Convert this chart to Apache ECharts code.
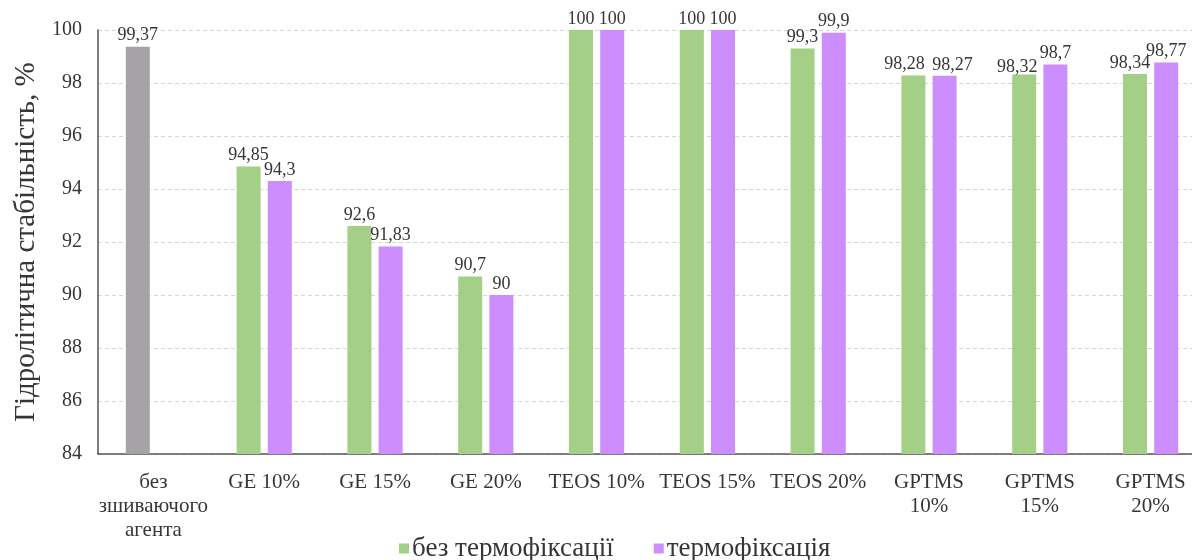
<!DOCTYPE html>
<html>
<head>
<meta charset="utf-8">
<script src="https://cdn.jsdelivr.net/npm/echarts@6/dist/echarts.min.js"></script>
<style>
html,body{margin:0;padding:0;background:#fff;}
#chart{width:1192px;height:560px;}
</style>
</head>
<body>
<div id="chart"></div>
<script>
const categories = ['без\nзшиваючого\nагента', 'GE 10%', 'GE 15%', 'GE 20%', 'TEOS 10%', 'TEOS 15%', 'TEOS 20%', 'GPTMS\n10%', 'GPTMS\n15%', 'GPTMS\n20%'];
const seriesNames = ['без термофіксації', 'термофіксація'];
const noThermo = [99.37, 94.85, 92.6, 90.7, 100, 100, 99.3, 98.28, 98.32, 98.34];
const thermo = [null, 94.3, 91.83, 90, 100, 100, 99.9, 98.27, 98.7, 98.77];
const yTicks = [84, 86, 88, 90, 92, 94, 96, 98, 100];

const FONT = '"Liberation Serif", "DejaVu Serif", serif';
const GREEN = '#a3cf86';
const PURPLE = '#cc8dfd';
const GRAY = '#a6a3a6';
const TXT = '#363636';

const fmt = v => String(v).replace('.', ',');

// label nudges (style only) so crowded labels don't overlap, as in the original
const greenLabelShift = {7: [-9, 0], 8: [-7, 4], 9: [-5, 0]};
const purpleLabelShift = {7: [8, 0]};

const chart = echarts.init(document.getElementById('chart'), null, {renderer: 'canvas'});
const labelCfg = {
  show: true, position: 'top', distance: 2,
  fontFamily: FONT, fontSize: 18, color: TXT,
  formatter: p => fmt(p.value)
};
chart.setOption({
  animation: false,
  backgroundColor: '#ffffff',
  grid: {left: 98, top: 30, width: 1108, height: 424, outerBoundsMode: 'none', containLabel: false},
  legend: {
    left: 394, top: 530,
    itemWidth: 10, itemHeight: 10, itemGap: 40,
    icon: 'rect',
    textStyle: {fontFamily: FONT, fontSize: 27, color: TXT, padding: [0, 0, 0, -2]},
    data: seriesNames
  },
  xAxis: {
    type: 'category',
    data: categories,
    axisLine: {lineStyle: {color: '#555', width: 1.5}},
    axisTick: {show: false},
    axisLabel: {interval: 0, margin: 16, fontFamily: FONT, fontSize: 21, lineHeight: 24, color: TXT}
  },
  yAxis: {
    type: 'value', min: yTicks[0], max: yTicks[yTicks.length - 1], interval: 2,
    name: 'Гідролітична стабільність, %',
    nameLocation: 'middle', nameGap: 56,
    nameTextStyle: {fontFamily: FONT, fontSize: 29, color: TXT},
    axisLine: {show: true, lineStyle: {color: '#555', width: 1.5}},
    axisTick: {show: false},
    axisLabel: {margin: 16, fontFamily: FONT, fontSize: 20, color: TXT},
    splitLine: {lineStyle: {color: '#d6d6d6', type: [4, 3], width: 1}}
  },
  series: [
    {
      name: seriesNames[0], type: 'bar', barWidth: 24, barGap: '30%',
      itemStyle: {color: GREEN},
      label: labelCfg,
      data: noThermo.map((v, i) => {
        const d = {value: v};
        if (i === 0) d.itemStyle = {color: GRAY};
        if (greenLabelShift[i]) d.label = {offset: greenLabelShift[i]};
        return d;
      })
    },
    {
      name: seriesNames[1], type: 'bar', barWidth: 24, barGap: '30%',
      itemStyle: {color: PURPLE},
      label: labelCfg,
      data: thermo.map((v, i) => {
        if (v === null) return '-';
        const d = {value: v};
        if (purpleLabelShift[i]) d.label = {offset: purpleLabelShift[i]};
        return d;
      })
    }
  ]
});
</script>
</body>
</html>
